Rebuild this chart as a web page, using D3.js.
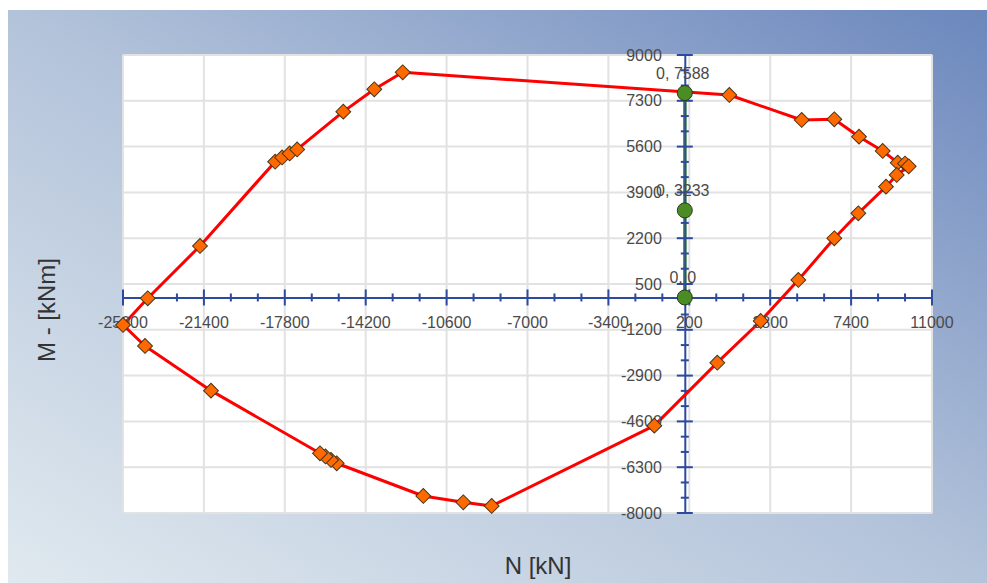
<!DOCTYPE html>
<html>
<head>
<meta charset="utf-8">
<script src="https://cdn.jsdelivr.net/npm/d3@7"></script>
<style>
  html, body { margin: 0; padding: 0; background: #ffffff; }
  svg { display: block; }
  text { font-family: "Liberation Sans", Arial, sans-serif; }
</style>
</head>
<body>
<svg id="chart" width="987" height="583"></svg>
<script>
// ---- Data ----
const curveN = [1980, 5202, 6653, 7752, 8806, 9474, 9800, 9963, 9430, 8953, 7722, 6653, 5051, 3377, 1446,
  -1357, -8593, -9857, -11637, -15491, -15744, -15989, -16234, -21084, -24020, -25000, -23900, -21574,
  -18231, -17919, -17585, -17251, -15197, -13817, -12553];
const curveM = [7516, 6588, 6614, 5969, 5438, 5003, 4970, 4870, 4547, 4113, 3125, 2197, 650, -872, -2420,
  -4758, -7739, -7602, -7368, -6154, -6032, -5902, -5783, -3459, -1800, -1020, -30, 1912,
  5040, 5197, 5345, 5494, 6897, 7728, 8359];
const pointN = [0, 0, 0];
const pointM = [7588, 3233, 0];
const pointLabels = ["0, 7588", "0, 3233", "0, 0"];
const xTickValues = [-25000, -21400, -17800, -14200, -10600, -7000, -3400, 200, 3800, 7400, 11000];
const yTickValues = [-8000, -6300, -4600, -2900, -1200, 500, 2200, 3900, 5600, 7300, 9000];
const xTitle = "N [kN]";
const yTitle = "M - [kNm]";

// ---- Layout ----
const W = 987, H = 583;
const plot = { left: 123, right: 932, top: 55, bottom: 513 };
const svg = d3.select("#chart");

// background gradient
const defs = svg.append("defs");
const grad = defs.append("linearGradient").attr("id", "bg")
  .attr("x1", "0%").attr("y1", "100%").attr("x2", "100%").attr("y2", "0%");
grad.append("stop").attr("offset", "0%").attr("stop-color", "#e0e9ef");
grad.append("stop").attr("offset", "50%").attr("stop-color", "#b3c3da");
grad.append("stop").attr("offset", "100%").attr("stop-color", "#6b87bd");
svg.append("rect").attr("x", 8).attr("y", 10).attr("width", W - 8).attr("height", H - 10)
  .attr("fill", "url(#bg)");

// scales
const x = d3.scaleLinear().domain([-25000, 11000]).range([plot.left, plot.right]);
const y = d3.scaleLinear().domain([-8000, 9000]).range([plot.bottom, plot.top]);

// plot area
svg.append("rect").attr("x", plot.left).attr("y", plot.top)
  .attr("width", plot.right - plot.left).attr("height", plot.bottom - plot.top)
  .attr("fill", "#ffffff").attr("stroke", "#dcdcdc").attr("stroke-width", 1);

// grid
const grid = svg.append("g");
grid.selectAll(".vg").data(xTickValues).join("line")
  .attr("x1", d => x(d)).attr("x2", d => x(d)).attr("y1", plot.top).attr("y2", plot.bottom)
  .attr("stroke", "#e2e2e2").attr("stroke-width", 2);
grid.selectAll(".hg").data(yTickValues).join("line")
  .attr("y1", d => y(d)).attr("y2", d => y(d)).attr("x1", plot.left).attr("x2", plot.right)
  .attr("stroke", "#e2e2e2").attr("stroke-width", 2);

// green vertical line for point series
svg.append("line").attr("x1", x(0)).attr("x2", x(0)).attr("y1", y(0)).attr("y2", y(pointM[0]))
  .attr("stroke", "#4f9a2e").attr("stroke-width", 3.5);

// axes through origin
const axisColor = "#2c4a9e";
const minorX = d3.range(-25000, 11001, 1200).filter(v => !xTickValues.includes(v));
const minorY = d3.range(-8000, 9001, 566.6667).map(v => Math.round(v)).filter(v => !yTickValues.some(t => Math.abs(t - v) < 5));

const xAxis = d3.axisBottom(x).tickValues(xTickValues).tickSize(0).tickFormat(() => "");
const xg = svg.append("g").attr("transform", `translate(0,${y(0)})`).call(xAxis);
xg.select(".domain").attr("stroke", axisColor).attr("stroke-width", 2);
const yAxis = d3.axisLeft(y).tickValues(yTickValues).tickSize(0).tickFormat(() => "");
const yg = svg.append("g").attr("transform", `translate(${x(0)},0)`).call(yAxis);
yg.select(".domain").attr("stroke", axisColor).attr("stroke-width", 2);

const ticks = svg.append("g").attr("stroke", axisColor).attr("stroke-width", 2);
ticks.selectAll(".xmaj").data(xTickValues).join("line")
  .attr("x1", d => x(d)).attr("x2", d => x(d)).attr("y1", y(0) - 8).attr("y2", y(0) + 8);
ticks.selectAll(".xmin").data(minorX).join("line")
  .attr("x1", d => x(d)).attr("x2", d => x(d)).attr("y1", y(0) - 4).attr("y2", y(0) + 4);
ticks.selectAll(".ymaj").data(yTickValues).join("line")
  .attr("y1", d => y(d)).attr("y2", d => y(d)).attr("x1", x(0) - 8).attr("x2", x(0) + 8);
ticks.selectAll(".ymin").data(minorY).join("line")
  .attr("y1", d => y(d)).attr("y2", d => y(d)).attr("x1", x(0) - 4).attr("x2", x(0) + 4);

// red curve
const pts = curveN.map((n, i) => [n, curveM[i]]);
const line = d3.line().x(d => x(d[0])).y(d => y(d[1]));
svg.append("path").datum(pts.concat([pts[0]])).attr("d", line)
  .attr("fill", "none").attr("stroke", "#ff0000").attr("stroke-width", 3).attr("stroke-linejoin", "round");

// tick labels
const labelColor = "#4a4a4a";
const fs = 16;
svg.append("g").selectAll("text").data(xTickValues).join("text")
  .attr("x", d => x(d)).attr("y", y(0) + 31).attr("text-anchor", "middle")
  .attr("font-size", fs).attr("fill", labelColor).text(d => d);
svg.append("g").selectAll("text").data(yTickValues).join("text")
  .attr("x", x(0) - 23).attr("y", d => y(d) + 5.5).attr("text-anchor", "end")
  .attr("font-size", fs).attr("fill", labelColor).text(d => d);

// diamond markers
svg.append("g").selectAll("path").data(pts).join("path")
  .attr("d", d3.symbol().type(d3.symbolSquare).size(110))
  .attr("transform", d => `translate(${x(d[0])},${y(d[1])}) rotate(45)`)
  .attr("fill", "#ff6a00").attr("stroke", "#4a3418").attr("stroke-width", 1);

// green points
const gp = pointN.map((n, i) => [n, pointM[i]]);
svg.append("g").selectAll("circle").data(gp).join("circle")
  .attr("cx", d => x(d[0])).attr("cy", d => y(d[1])).attr("r", 7.5)
  .attr("fill", "#4c8c25").attr("stroke", "#2a3a1a").attr("stroke-width", 1);
svg.append("g").selectAll("text").data(gp).join("text")
  .attr("x", d => x(d[0]) - 2).attr("y", d => y(d[1]) - 14).attr("text-anchor", "middle")
  .attr("font-size", fs).attr("fill", labelColor).text((d, i) => pointLabels[i]);

// axis titles
svg.append("text").attr("x", 538).attr("y", 574).attr("text-anchor", "middle")
  .attr("font-size", 24).attr("fill", "#333").text(xTitle);
svg.append("text").attr("transform", "translate(55,310) rotate(-90)").attr("text-anchor", "middle")
  .attr("font-size", 24).attr("fill", "#333").text(yTitle);
</script>
</body>
</html>
